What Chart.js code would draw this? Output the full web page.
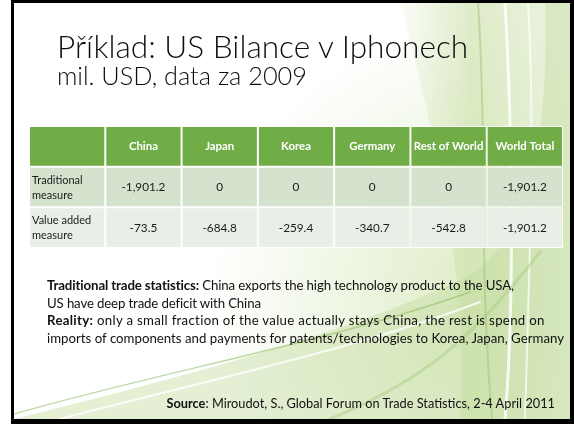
<!DOCTYPE html>
<html>
<head>
<meta charset="utf-8">
<script src="https://cdn.jsdelivr.net/npm/chart.js@4.4.1/dist/chart.umd.min.js"></script>
<style>
  html,body{margin:0;padding:0;background:#fff;}
  body{width:574px;height:424px;position:relative;overflow:hidden;font-family:Lato,"Open Sans",sans-serif;}
  #bg{position:absolute;left:0;top:0;}
  #frame{position:absolute;left:11px;top:0;width:563px;height:424px;box-sizing:border-box;
    border-style:solid;border-color:#000;border-width:3px 4px 5px 3px;}
  .txt{position:absolute;color:#111;white-space:nowrap;}
  .title,.sub{font-weight:300;color:#0d0d0d;}
  #tableWrap{position:absolute;left:29px;top:126px;width:534px;height:122px;}
  b{font-weight:700;}
  #l1{letter-spacing:-0.12px;} #l2{letter-spacing:-0.15px;} #l3{letter-spacing:0.3px;}
</style>
</head>
<body>
<canvas id="bg" width="574" height="424"></canvas>
<div id="frame"></div>
<div class="txt title" id="title">Příklad: US Bilance v Iphonech</div>
<div class="txt sub" id="sub">mil. USD, data za 2009</div>
<div id="tableWrap"><canvas id="tbl" width="534" height="122"></canvas></div>
<div class="txt" id="note"><span id="l1"><b>Traditional trade statistics:</b> China exports the high technology product to the USA,</span><br><span id="l2">US have deep trade deficit with China</span><br><span id="l3"><b>Reality:</b> only a small fraction of the value actually stays China, the rest is spend on</span><br><span id="line4">imports of components and payments for patents/technologies to Korea, Japan, Germany</span></div>
<div class="txt" id="src"><b>Source</b>: Miroudot, S., Global Forum on Trade Statistics, 2-4 April 2011</div>
<script>
// --- table data (mil. USD, 2009)
const columns = ['', 'China', 'Japan', 'Korea', 'Germany', 'Rest of World', 'World Total'];
const rowLabels = [['Traditional', 'measure'], ['Value added', 'measure']];
const traditional = [-1901.2, 0, 0, 0, 0, -1901.2];
const valueAdded = [-73.5, -684.8, -259.4, -340.7, -542.8, -1901.2];
const rows = [traditional, valueAdded];

const headerColor = '#70AD47';
const rowColors = ['#D5E2CE', '#E9EFE6'];

function fmt(v){
  if(v===0) return '0';
  return v.toLocaleString('en-US',{minimumFractionDigits:1,maximumFractionDigits:1});
}

// --- text sizing: fit a sample string to the width it has on the slide
const mctx = document.createElement('canvas').getContext('2d');
function fitSize(text, weight, target){
  mctx.font = weight+' 100px Lato';
  return 100*target/mctx.measureText(text).width;
}
function place(el, left, baseline, size, lh){
  el.style.fontSize = size+'px';
  el.style.lineHeight = lh+'px';
  if(left!==null) el.style.left = left+'px';
  el.style.top = (baseline - 0.987*size - (lh-1.2*size)/2)+'px';
}
const tEl = document.getElementById('title');
let s = fitSize(tEl.textContent, 300, 413);
place(tEl, 57, 59, s, s*1.2);
const sEl = document.getElementById('sub');
s = fitSize(sEl.textContent, 300, 250);
place(sEl, 57, 85, s, s*1.2);
const bodySize = fitSize(document.getElementById('line4').textContent, 400, 518);
place(document.getElementById('note'), 47, 291, bodySize, 17.6);
const srcEl = document.getElementById('src');
srcEl.style.right = (574-555)+'px';
place(srcEl, null, 408.5, bodySize*0.965, bodySize*1.2);

// --- background swooshes
function drawBackground(){
  const c = document.getElementById('bg');
  const g = c.getContext('2d');
  g.fillStyle = '#fff'; g.fillRect(0,0,574,424);
  g.save();
  g.beginPath(); g.rect(14,3,556,416); g.clip();

  let rg = g.createRadialGradient(490,300,10,490,300,280);
  rg.addColorStop(0,'rgba(200,224,160,0.6)');
  rg.addColorStop(1,'rgba(200,224,160,0)');
  g.fillStyle = rg; g.fillRect(14,3,556,416);

  let lg = g.createLinearGradient(390,0,570,0);
  lg.addColorStop(0,'rgba(205,225,175,0)');
  lg.addColorStop(0.45,'rgba(205,225,170,0.65)');
  lg.addColorStop(1,'rgba(228,240,215,0.7)');
  g.fillStyle = lg;
  g.beginPath(); g.moveTo(400,3); g.lineTo(570,3); g.lineTo(570,419); g.lineTo(460,419);
  g.bezierCurveTo(470,300,440,150,400,3); g.closePath(); g.fill();

  // sweeping band bottom
  g.fillStyle = 'rgba(195,220,160,0.45)';
  g.beginPath(); g.moveTo(14,419); g.bezierCurveTo(150,385,350,335,470,275);
  g.bezierCurveTo(520,245,550,160,545,3); g.lineTo(570,3); g.lineTo(570,419); g.closePath(); g.fill();

  g.lineCap='round';
  const lines = [
    ['rgba(255,255,255,0.85)',3,[505,3,512,120,515,300,505,419]],
    ['rgba(255,255,255,0.7)',2,[528,3,535,120,530,250,525,419]],
    ['rgba(150,190,110,0.45)',2,[478,3,488,150,478,250,492,419]],
    ['rgba(140,185,95,0.55)',1.5,[14,414,160,372,330,342,470,292]],
    ['rgba(255,255,255,0.8)',2,[60,419,200,382,360,348,480,302]],
    ['rgba(160,200,120,0.4)',3,[330,419,420,382,470,342,540,252]]
  ];
  lines.forEach(([col,w,p])=>{
    g.strokeStyle=col; g.lineWidth=w; g.beginPath();
    g.moveTo(p[0],p[1]); g.bezierCurveTo(p[2],p[3],p[4],p[5],p[6],p[7]); g.stroke();
  });
  g.restore();
}
drawBackground();

// --- cell font sizes
const headSize = (fitSize('China',700,29)+fitSize('Rest of World',700,70))/2;
const valSize = fitSize('-1,901.2',400,44);
const labSize = (fitSize('Traditional',400,51)+fitSize('Value added',400,59))/2;

// --- table text plugin
const cellText = {
  id:'cellText',
  afterDatasetsDraw(chart){
    const ctx = chart.ctx;
    const x = chart.scales.x, y = chart.scales.y;
    const first = chart.getDatasetMeta(1).data[0];
    const left0 = first.x - first.width/2;
    ctx.save();
    ctx.textBaseline = 'middle';
    ctx.fillStyle = '#fff';
    ctx.font = 'bold '+headSize+'px Lato';
    ctx.textAlign = 'center';
    columns.forEach((c,i)=>{ if(c) ctx.fillText(c, x.getPixelForValue(i), y.getPixelForValue(0.5)); });
    ctx.fillStyle = '#1a1a1a';
    rows.forEach((vals,r)=>{
      const yc = y.getPixelForValue(r+1.5);
      ctx.font = labSize+'px Lato';
      ctx.textAlign = 'left';
      ctx.fillText(rowLabels[r][0], left0+3, yc-7);
      ctx.fillText(rowLabels[r][1], left0+3, yc+8);
      ctx.font = valSize+'px Lato';
      ctx.textAlign = 'center';
      vals.forEach((v,i)=>ctx.fillText(fmt(v), x.getPixelForValue(i+1), yc+0.5));
    });
    ctx.restore();
  }
};

const ones = columns.map(()=>1);
new Chart(document.getElementById('tbl'),{
  type:'bar',
  data:{
    labels:columns,
    datasets:[
      {label:'header',data:ones,backgroundColor:headerColor},
      {label:'Traditional measure',data:ones,backgroundColor:rowColors[0]},
      {label:'Value added measure',data:ones,backgroundColor:rowColors[1]}
    ]
  },
  options:{
    responsive:false,animation:false,
    layout:{padding:0},
    datasets:{bar:{barPercentage:1,categoryPercentage:1,borderWidth:1,borderColor:'#fff',borderSkipped:false,inflateAmount:0}},
    plugins:{legend:{display:false},tooltip:{enabled:false}},
    scales:{
      x:{display:false,stacked:true},
      y:{display:false,stacked:true,min:0,max:3,reverse:true}
    }
  },
  plugins:[cellText]
});
</script>
</body>
</html>
